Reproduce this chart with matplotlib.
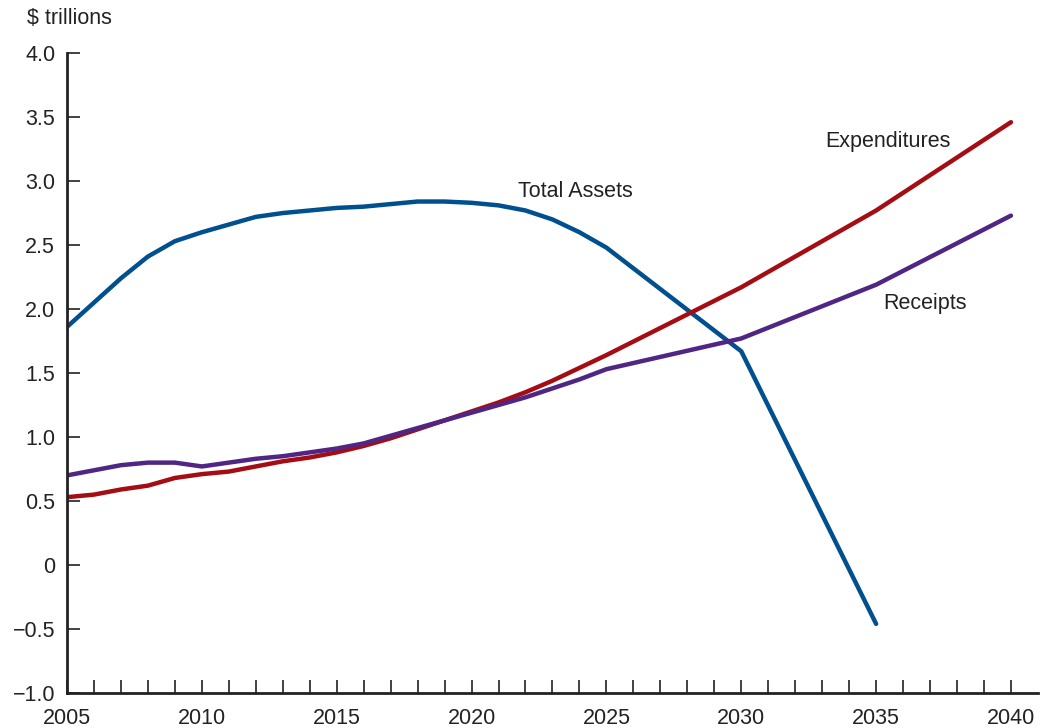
import numpy as np
from matplotlib import pyplot as plt

# Data ($ trillions)
asset_years = [2005, 2006, 2007, 2008, 2009, 2010, 2011, 2012, 2013, 2014, 2015,
               2016, 2017, 2018, 2019, 2020, 2021, 2022, 2023, 2024, 2025, 2030, 2035]
total_assets = [1.86, 2.05, 2.24, 2.41, 2.53, 2.60, 2.66, 2.72, 2.75, 2.77, 2.79,
                2.80, 2.82, 2.84, 2.84, 2.83, 2.81, 2.77, 2.70, 2.60, 2.48, 1.67, -0.46]

flow_years = [2005, 2006, 2007, 2008, 2009, 2010, 2011, 2012, 2013, 2014, 2015,
              2016, 2017, 2018, 2019, 2020, 2021, 2022, 2023, 2024, 2025, 2030, 2035, 2040]
expenditures = [0.53, 0.55, 0.59, 0.62, 0.68, 0.71, 0.73, 0.77, 0.81, 0.84, 0.88,
                0.93, 0.99, 1.06, 1.13, 1.20, 1.27, 1.35, 1.44, 1.54, 1.64, 2.17, 2.77, 3.46]
receipts = [0.70, 0.74, 0.78, 0.80, 0.80, 0.77, 0.80, 0.83, 0.85, 0.88, 0.91,
            0.95, 1.01, 1.07, 1.13, 1.19, 1.25, 1.31, 1.38, 1.45, 1.53, 1.77, 2.19, 2.73]

plt.rcParams['font.family'] = ['Liberation Sans', 'DejaVu Sans']
text_color = '#222222'
fs = 15.5

fig = plt.figure(figsize=(10.48, 7.28), dpi=100)
ax = fig.add_axes([0.0639, 0.0481, 0.9265, 0.879])

ax.plot(asset_years, total_assets, color='#00508f', lw=3.2, solid_capstyle='round')
ax.plot(flow_years, expenditures, color='#a50d14', lw=3.2, solid_capstyle='round')
ax.plot(flow_years, receipts, color='#4f2683', lw=3.2, solid_capstyle='round')

ax.text(2023.85, 2.92, 'Total Assets', fontsize=fs, color=text_color, ha='center', va='center')
ax.text(2035.45, 3.31, 'Expenditures', fontsize=fs, color=text_color, ha='center', va='center')
ax.text(2036.8, 2.04, 'Receipts', fontsize=fs, color=text_color, ha='center', va='center')

ax.set_xlim(2005, 2041)
ax.set_ylim(-1.0, 4.0)

yticks = np.arange(-1.0, 4.01, 0.5)
ylabels = ['\u22121.0', '\u22120.5', '0', '0.5', '1.0', '1.5', '2.0', '2.5', '3.0', '3.5', '4.0']
ax.set_yticks(yticks)
ax.set_yticklabels(ylabels)
ax.set_xticks(range(2005, 2041, 5))
ax.set_xticks(range(2006, 2041), minor=True)

ax.tick_params(axis='y', direction='in', length=9, width=1.3, color='#333333',
               labelsize=fs, labelcolor=text_color, pad=8.5)
ax.tick_params(axis='x', which='both', direction='in', length=9.5, width=1.3, color='#333333',
               labelsize=fs, labelcolor=text_color, pad=11)

for side in ['top', 'right']:
    ax.spines[side].set_visible(False)
for side in ['left', 'bottom']:
    ax.spines[side].set_linewidth(2.0)
    ax.spines[side].set_color('#222222')

fig.text(27 / 1048, 1 - 18 / 728, '$ trillions', fontsize=fs, color=text_color, ha='left', va='center')

fig.savefig('out.png', dpi=100)
